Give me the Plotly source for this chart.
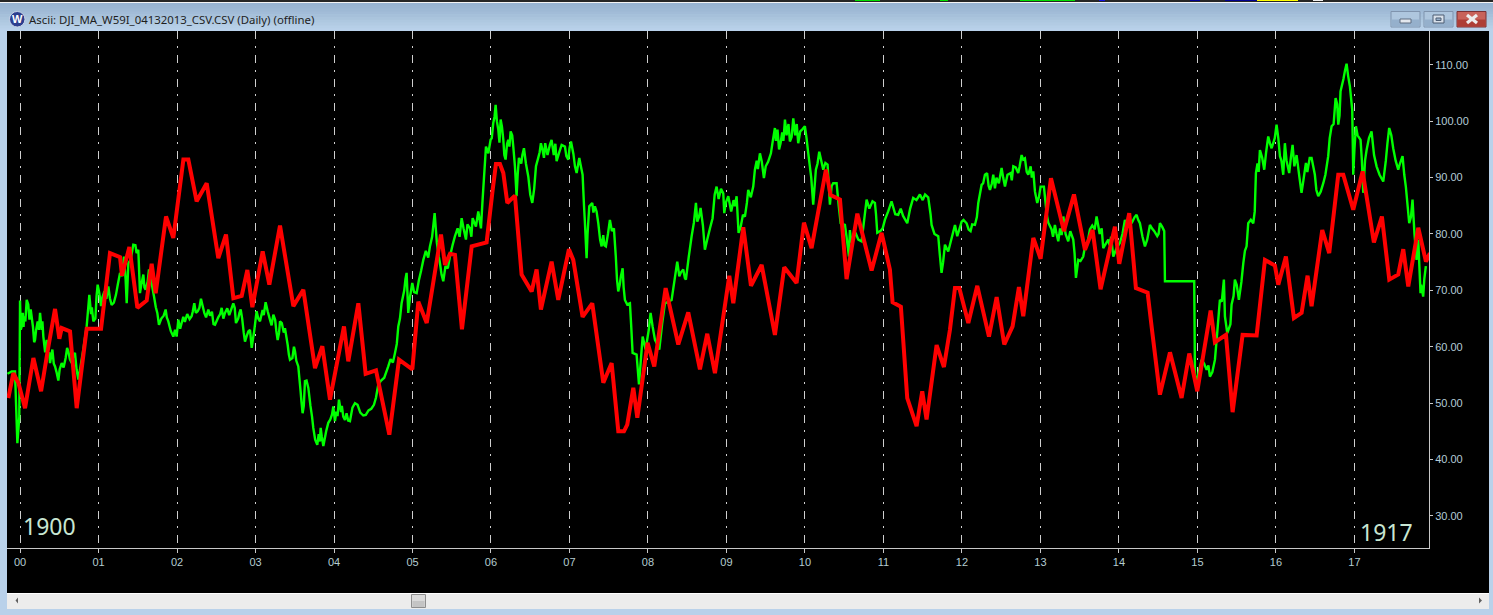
import plotly.graph_objects as go

red_years = [-0.149,-0.085,-0.021,0.064,0.170,0.268,0.361,0.446,0.501,0.531,0.637,0.722,0.849,1.032,1.146,1.274,1.299,1.393,1.495,1.614,1.677,1.728,1.860,1.953,2.081,2.144,2.250,2.378,2.526,2.624,2.718,2.824,2.896,2.960,3.091,3.176,3.312,3.482,3.609,3.758,3.851,3.949,4.127,4.182,4.310,4.403,4.535,4.705,4.828,4.998,5.074,5.181,5.363,5.414,5.478,5.541,5.630,5.754,
5.944,6.021,6.063,6.114,6.157,6.208,6.305,6.390,6.518,6.581,6.636,6.772,6.857,6.993,7.048,7.167,7.290,7.431,7.537,7.622,7.694,7.736,7.813,7.864,7.995,8.080,8.225,8.386,8.513,8.662,8.755,8.853,9.036,9.087,9.214,9.312,9.448,9.617,9.736,9.893,9.987,10.084,10.267,10.326,10.446,10.530,10.667,10.849,10.976,11.082,11.116,11.222,11.303,11.422,11.494,11.549,11.677,11.770,
11.847,11.911,11.966,12.081,12.195,12.344,12.442,12.539,12.645,12.726,12.781,12.909,13.002,13.134,13.299,13.427,13.567,13.664,13.766,13.949,14.004,14.131,14.216,14.365,14.429,14.522,14.650,14.798,14.896,14.998,15.168,15.223,15.363,15.448,15.575,15.754,15.860,15.987,16.030,16.127,16.229,16.327,16.403,16.454,16.590,16.679,16.794,16.858,16.985,17.104,17.248,17.350,17.444,17.558,17.622,17.686,17.813,17.911,17.962]
red_values = [50.9,55.3,53.6,49.1,58.0,52.1,60.0,66.7,61.4,63.3,62.7,49.1,63.2,63.2,76.6,75.9,72.6,77.7,66.9,68.2,74.7,69.5,83.1,79.3,93.2,93.2,85.8,89.0,75.7,79.9,68.6,69.0,73.6,67.0,76.9,71.0,81.5,67.2,70.1,56.2,60.1,50.6,63.6,57.4,67.7,55.2,55.8,44.4,57.7,56.0,68.0,64.2,79.9,74.5,76.5,76.3,63.1,77.8,
78.5,87.8,92.4,92.4,90.8,85.5,86.8,72.8,69.8,73.7,66.6,75.1,68.3,77.3,75.4,65.3,67.7,53.6,57.1,45.0,45.0,46.2,52.7,47.4,60.7,56.5,70.4,60.4,66.1,56.0,62.3,55.3,72.6,67.7,81.2,70.8,74.5,62.1,74.1,71.3,82.0,77.5,91.4,86.9,86.1,72.0,83.6,73.5,80.2,73.7,67.9,67.1,50.9,45.9,52.1,47.1,60.3,56.4,
63.0,70.4,70.4,64.2,70.8,61.8,68.8,60.4,63.6,70.6,65.4,79.3,75.6,89.9,80.5,87.0,77.2,80.7,70.2,81.3,74.7,83.7,70.4,69.6,62.1,51.5,59.0,50.9,58.8,52.1,66.4,60.8,62.1,48.4,62.1,62.0,75.4,74.4,71.0,76.0,65.1,66.0,72.6,67.2,80.7,76.6,90.5,90.5,84.3,91.1,78.5,83.1,71.9,72.8,77.3,70.7,81.1,75.1,76.6]

green_years = [-0.160,-0.106,-0.064,-0.051,-0.034,-0.009,0.0,0.021,0.051,0.085,0.136,0.191,0.255,0.297,0.339,0.382,0.412,0.446,0.488,0.531,0.581,0.615,0.658,0.700,0.743,0.806,0.849,0.883,0.934,0.989,1.032,1.125,1.167,1.222,1.274,1.324,1.359,1.380,1.443,1.507,1.528,1.571,1.600,1.643,1.707,1.749,1.770,1.855,1.889,1.953,1.995,2.017,2.059,2.186,2.220,2.263,2.305,2.348,2.399,2.484,2.569,2.611,2.717,2.751,2.811,2.866,2.908,2.951,3.014,3.057,3.129,3.184,3.227,3.282,3.312,3.375,3.439,3.503,3.545,3.600,3.630,3.673,3.736,3.787,3.830,3.864,3.927,3.991,4.012,4.063,4.118,4.203,4.267,4.373,4.509,4.564,4.691,4.777,4.819,4.861,4.925,4.946,4.997,5.053,5.138,5.222,5.282,5.350,5.392,5.477,5.541,5.626,5.681,
5.732,5.766,5.808,5.838,5.872,5.893,5.936,5.966,5.995,6.029,6.059,6.093,6.123,6.157,6.186,6.220,6.250,6.284,6.326,6.356,6.420,6.475,6.526,6.573,6.636,6.675,6.772,6.836,6.942,6.985,7.019,7.091,7.125,7.167,7.197,7.218,7.252,7.324,7.367,7.409,7.464,7.515,7.566,7.621,7.677,7.706,7.770,7.804,7.855,7.885,7.932,7.970,8.033,8.089,8.144,8.216,8.301,8.373,8.399,8.449,8.483,8.556,8.611,8.628,8.670,8.725,8.823,8.874,8.959,8.972,9.023,9.108,9.129,9.154,9.235,9.277,9.341,9.362,9.426,9.477,9.566,9.617,9.689,9.745,9.808,9.851,9.914,9.999,10.042,10.105,10.139,10.182,10.233,10.288,10.318,10.360,10.403,10.454,10.509,10.560,10.572,10.615,10.721,10.785,10.891,10.921,11.018,11.103,11.188,11.303,11.379,11.464,11.570,11.613,11.698,11.740,11.783,11.825,
11.847,11.911,11.940,11.996,12.059,12.110,12.165,12.208,12.250,12.293,12.357,12.399,12.420,12.505,12.548,12.654,12.717,12.760,12.802,12.845,12.909,12.959,13.002,13.044,13.078,13.142,13.184,13.227,13.291,13.354,13.418,13.452,13.482,13.545,13.630,13.715,13.800,13.864,13.928,14.012,14.076,14.161,14.225,14.267,14.331,14.395,14.488,14.522,14.577,14.586,14.959,14.968,14.989,15.053,15.117,15.159,15.223,15.286,15.337,15.350,15.380,15.435,15.477,15.528,15.584,15.626,15.647,15.711,15.745,15.796,15.851,15.902,15.945,16.008,16.051,16.093,16.114,16.169,16.212,16.263,16.326,16.382,16.454,16.496,16.539,16.603,16.666,16.709,16.760,16.794,16.823,16.900,16.942,16.972,16.985,17.019,17.078,17.112,17.155,17.218,17.282,17.367,17.443,17.494,17.558,17.613,17.655,17.698,17.740,17.791,17.813,17.842,17.876,17.910]
green_values = [55.2,55.6,55.6,50.0,42.9,47.6,68.2,63.6,65.4,68.3,66.6,61.2,66.0,61.8,61.2,57.1,59.5,56.5,54.0,57.1,58.0,59.2,57.1,58.9,54.2,59.5,63.6,69.2,64.5,71.0,67.2,70.7,67.4,69.2,73.1,76.0,67.7,74.8,78.1,77.2,69.5,72.8,70.1,73.7,68.9,66.0,63.9,66.6,64.5,61.8,61.8,64.8,64.2,65.4,67.7,66.3,68.5,66.0,66.6,63.9,66.9,66.0,67.7,64.2,66.6,60.9,62.7,59.8,66.3,64.5,67.9,64.8,65.7,61.2,64.5,63.3,57.7,59.2,56.5,48.2,53.9,52.7,45.6,42.6,45.6,42.4,46.5,49.4,46.8,50.6,47.6,46.8,50.0,47.8,49.7,53.3,56.5,58.9,63.6,67.7,73.1,66.0,71.3,69.5,75.4,77.8,83.7,74.8,71.6,76.0,79.6,82.8,79.0,
81.0,82.8,81.3,84.0,81.0,86.1,95.5,94.3,96.7,99.7,102.9,98.5,100.3,96.7,93.2,96.7,98.2,95.5,86.7,93.5,95.2,90.2,85.5,92.0,96.1,93.5,96.7,92.9,95.5,93.2,96.4,90.8,93.5,90.5,81.9,75.7,84.9,84.9,81.9,77.8,77.8,82.5,81.0,69.8,73.9,68.3,67.7,58.9,58.6,53.3,61.8,59.5,66.0,61.2,59.5,67.7,68.3,75.1,72.5,73.7,71.9,79.6,85.5,82.2,84.6,77.2,82.8,88.4,87.2,83.7,86.7,84.9,86.7,80.2,83.1,87.8,88.4,91.4,94.3,89.9,94.3,98.8,96.1,100.3,96.4,100.5,96.1,99.1,94.3,85.2,91.4,94.6,91.4,92.3,85.2,89.0,89.0,81.9,81.6,76.0,80.7,79.6,78.7,86.1,85.5,80.2,82.5,85.8,83.4,81.9,86.4,87.0,86.5,81.6,79.6,73.1,78.1,76.9,
78.1,81.6,79.6,82.2,81.9,80.5,81.6,85.5,88.7,90.5,87.8,90.5,88.1,91.7,88.4,92.0,90.8,94.0,93.4,90.5,91.1,85.5,88.4,88.4,83.7,80.8,81.6,78.7,83.1,78.7,79.0,72.2,75.4,76.0,80.8,83.1,77.5,79.0,76.0,78.4,82.5,81.9,83.4,81.9,77.8,81.6,79.6,81.9,80.5,71.6,71.6,55.3,53.6,57.7,55.9,54.7,57.7,68.3,71.9,65.4,62.4,67.5,71.9,68.3,74.8,77.8,81.9,81.9,90.8,94.9,91.4,97.3,95.2,99.4,93.8,90.5,96.1,90.8,95.8,94.0,87.3,92.6,93.5,90.5,86.7,89.0,93.8,99.1,104.1,99.4,105.3,110.2,106.2,102.0,90.5,99.1,96.7,87.3,94.9,98.2,92.0,89.3,98.8,95.2,91.4,93.8,88.4,81.9,86.1,75.4,79.0,69.5,68.9,74.3]

# finer swings of the green series, estimated between the larger turns above
green_detail_years = [0.010,0.035,0.045,0.068,0.105,0.120,0.165,0.180,0.205,0.225,0.240,0.275,0.285,0.320,0.355,0.372,0.430,0.465,0.505,0.555,0.600,0.635,0.680,0.720,
0.905,0.915,0.960,0.975,1.010,1.050,1.075,1.100,1.145,1.195,1.245,1.300,1.345,1.410,1.470,1.485,1.545,1.585,1.625,1.680,1.730,1.800,1.830,1.870,1.920,1.975,
2.040,2.080,2.100,2.130,2.160,2.200,2.240,2.285,2.325,2.370,2.420,2.445,2.465,2.525,2.550,2.590,2.640,2.665,2.690,2.735,2.780,2.795,2.830,2.850,2.885,2.930,
2.985,3.035,3.090,3.105,3.155,3.205,3.250,3.265,3.300,3.335,3.360,3.410,3.425,3.470,3.490,3.520,3.575,3.585,3.615,3.650,3.700,3.720,3.760,3.805,3.820,3.845,3.900,3.950,3.975,
4.030,4.045,4.090,4.100,4.140,4.160,4.180,4.235,4.300,4.335,4.405,4.440,4.475,4.535,4.600,4.640,4.720,4.750,4.800,4.840,
4.895,4.910,4.970,5.020,5.080,5.110,5.170,5.200,5.250,5.310,5.335,5.370,5.420,5.450,5.510,5.575,5.600,5.650,5.700,5.750,
6.010,6.045,6.075,6.108,6.140,6.170,6.205,6.235,6.270,6.305,6.340,6.385,6.400,6.445,6.500,6.550,6.600,6.620,6.655,6.690,6.720,6.750,6.800,6.820,6.870,6.900,6.960,7.000,7.050,7.070,
7.145,7.185,7.230,7.290,7.305,7.345,7.390,7.430,7.445,7.490,7.540,7.590,7.605,7.640,7.655,7.690,7.735,7.785,
8.010,8.060,8.115,8.180,8.260,8.340,8.420,8.470,8.520,8.585,8.650,8.700,8.755,8.790,8.850,8.900,8.930,8.990,9.060,9.090,
9.180,9.210,9.260,9.310,9.385,9.400,9.450,9.500,9.530,9.590,9.630,9.650,9.670,9.710,9.725,9.765,9.790,9.830,9.875,9.895,9.940,9.970,10.020,
10.080,10.160,10.260,10.340,10.430,10.530,10.590,10.650,10.680,10.750,10.820,10.860,10.905,10.960,10.990,11.060,11.150,11.220,11.250,11.340,11.420,11.500,11.530,11.600,11.650,11.720,11.760,
12.020,12.085,12.130,12.190,12.270,12.320,12.340,12.380,12.440,12.470,12.525,12.580,12.620,12.635,12.685,12.735,12.780,12.825,12.875,12.890,
12.930,12.980,13.100,13.160,13.205,13.250,13.270,13.320,13.380,13.435,13.510,13.570,13.600,13.660,13.690,13.755,13.780,13.830,13.880,13.900,13.970,14.045,
14.100,14.130,14.200,14.245,14.300,14.360,14.420,14.450,14.505,14.550,
15.020,15.085,15.140,15.190,15.255,15.310,15.420,15.460,15.500,15.560,15.605,15.680,15.730,15.765,15.780,15.825,15.875,15.925,15.985,16.030,
16.070,16.135,16.190,16.235,16.300,16.350,16.400,16.430,16.475,16.515,16.570,16.630,16.685,16.735,16.780,16.810,16.860,16.880,16.920,
17.000,17.040,17.095,17.135,17.185,17.250,17.320,17.400,17.420,17.470,17.525,17.580,17.635,17.720,17.765,17.850,17.890]
green_detail_values = [63.0,66.0,63.5,64.5,67.5,64.8,63.5,60.8,63.0,64.5,63.0,63.0,64.5,59.0,58.5,59.0,57.0,55.5,56.0,56.3,59.8,57.8,58.5,56.0,
65.8,67.0,65.0,69.0,69.5,68.8,69.8,68.5,68.6,67.8,71.0,72.5,72.0,75.5,78.0,76.6,71.0,70.5,71.5,71.0,67.0,65.0,65.5,65.2,62.8,63.0,
63.2,65.3,64.4,65.8,64.9,66.2,66.0,66.9,67.3,65.2,65.5,66.2,64.0,65.2,65.8,65.0,66.8,65.6,66.6,66.9,65.0,66.0,65.0,62.5,61.8,63.0,
63.0,65.0,66.5,65.6,66.3,63.8,64.8,62.8,62.5,64.2,62.5,60.3,58.6,58.0,60.0,57.5,52.0,50.3,49.5,54.0,49.5,47.6,43.5,44.5,43.2,44.0,45.0,47.0,48.0,
48.5,47.7,48.4,49.5,47.0,48.2,46.9,49.2,49.7,48.3,47.9,48.7,49.0,51.0,54.0,54.5,57.8,57.2,60.5,65.0,
70.0,72.0,69.0,69.7,71.7,73.5,77.0,75.8,79.5,78.5,76.0,72.8,74.3,73.9,78.0,81.0,79.5,81.0,81.7,79.5,
97.0,100.8,100.0,96.2,99.0,94.0,96.0,95.5,97.5,92.0,90.5,92.5,94.0,92.5,87.0,88.0,93.4,94.5,95.0,96.1,94.0,95.8,94.0,96.0,94.5,95.8,93.8,95.2,94.2,92.0,
92.0,85.0,80.0,85.5,83.8,84.0,79.0,79.8,78.0,80.0,80.5,76.0,72.0,71.0,72.5,70.5,67.5,64.0,
63.0,63.5,60.5,64.0,68.0,72.0,73.2,72.2,76.0,82.0,83.0,81.5,79.0,81.0,87.0,86.2,88.0,85.5,84.0,86.0,
81.2,83.4,85.5,86.5,93.0,91.5,92.8,92.0,92.8,96.5,96.5,98.5,95.0,98.0,96.5,97.5,99.5,97.2,97.5,99.5,98.2,98.6,97.0,
90.0,92.5,92.6,88.5,85.0,79.5,78.5,80.0,79.0,82.0,84.5,85.8,83.5,80.5,81.0,84.0,83.5,84.5,83.2,84.5,86.0,86.0,87.0,83.5,80.0,76.0,75.0,
82.5,80.8,81.7,83.0,89.0,90.8,88.5,88.9,90.0,89.0,90.0,90.5,90.8,89.5,91.8,92.0,93.2,91.0,92.0,90.0,
87.5,86.5,82.0,79.5,80.0,81.0,79.8,80.0,80.5,76.5,75.2,78.0,78.5,81.5,80.8,80.0,81.0,78.2,78.0,79.5,77.5,80.0,
81.0,82.7,83.0,82.5,79.5,79.0,81.0,80.5,80.0,81.3,
55.7,57.0,56.7,55.5,63.0,68.0,64.0,69.0,71.0,71.5,77.0,82.5,84.0,92.5,91.0,93.5,94.5,96.0,97.0,97.0,
93.0,93.0,93.5,92.0,90.0,89.5,91.0,93.5,92.0,87.8,87.5,90.5,97.0,99.5,103.0,101.0,107.5,109.0,108.0,
95.0,97.5,93.0,93.0,97.0,94.0,90.5,93.0,96.0,97.5,93.0,92.5,90.5,83.0,80.0,71.0,72.0]

x_ticks = list(range(18))
x_labels = [f"{y:02d}" for y in x_ticks]
y_ticks = [30, 40, 50, 60, 70, 80, 90, 100, 110]
y_labels = [f"{v:.2f}" for v in y_ticks]
title_text = "Ascii: DJI_MA_W59I_04132013_CSV.CSV (Daily) (offline)"

green_pairs = sorted(zip(green_years + green_detail_years, green_values + green_detail_values))
green_x = [p[0] for p in green_pairs]
green_y = [p[1] for p in green_pairs]

W, H = 1493, 615
def fx(p): return p / W
def fy(p): return 1 - p / H

FRAME = "#B9D1EA"
shapes = []
def rect(x0, y0, x1, y1, fill, line=None, lw=1):
    shapes.append(dict(type="rect", xref="paper", yref="paper", x0=fx(x0), x1=fx(x1), y0=fy(y0), y1=fy(y1),
                       fillcolor=fill, line=dict(color=line or fill, width=lw if line else 0), layer="below"))

# window frame
rect(0, 0, W, H, FRAME)
title_bands = ["#98B4D2", "#9BB6D3", "#9EB9D5", "#A2BCD8", "#A6C0DA", "#AAC4DD", "#AEC8E0", "#B2CBE3", "#B6CFE7", "#B9D1EA"]
band_h = 28 / len(title_bands)
for i, c in enumerate(title_bands):
    rect(0, 3 + i * band_h, W, 3 + (i + 1) * band_h + 0.5, c)
rect(0, 0, W, 2, "#262626")
rect(0, 2, W, 3, "#F4F4F4")
for a, b, c in [(855, 880, "#00E000"), (940, 948, "#00E000"), (1020, 1075, "#00E000"), (1099, 1105, "#1010E0"),
                (1190, 1200, "#000090"), (1225, 1270, "#000090"), (1257, 1298, "#FFFF00"), (1313, 1323, "#F0F0F0")]:
    rect(a, 0, b, 1, c)
# black client area
rect(7, 31, 1489, 593, "#000000")
# scrollbar
rect(7, 593, 1489, 609, "#ECECEC")
rect(7, 593, 1489, 594, "#FFFFFF")
rect(411.5, 594.5, 425.5, 607.5, "#DADADA", "#8E8E8E", 1)
rect(412.5, 601, 424.5, 607, "#C4C4C4")
# buttons
rect(1391, 11.5, 1420, 27, "#AEC6DE", "#7F93AD", 1)
rect(1391.5, 19.5, 1419.5, 26.5, "#95B0CC")
rect(1400, 19, 1411, 23, "#E4E8EE", "#5E6C80", 1)
rect(1424, 11.5, 1453, 27, "#AEC6DE", "#7F93AD", 1)
rect(1424.5, 19.5, 1452.5, 26.5, "#95B0CC")
rect(1433, 15, 1444, 23, "#D8E0EA", "#4D5D73", 1)
rect(1436, 18, 1441, 20.5, "#98B0CA", "#4D5D73", 1)
rect(1457, 11.5, 1486, 27, "#C8625A", "#7A3034", 1)
rect(1457.5, 19.5, 1485.5, 26.5, "#AE3E36")
for xa, xb in [(1467, 1477), (1477, 1467)]:
    shapes.append(dict(type="line", xref="paper", yref="paper", x0=fx(xa), x1=fx(xb), y0=fy(15), y1=fy(23),
                       line=dict(color="#EDEDED", width=3.2), layer="above"))
# scroll arrows
for path in [(15.5, 600.5, 18, 597.5, 18, 603.5), (1482, 600.5, 1479, 597.5, 1479, 603.5)]:
    xa, ya, xb, yb, xc, yc = path
    shapes.append(dict(type="path", xref="paper", yref="paper",
                       path=f"M{fx(xa)},{fy(ya)} L{fx(xb)},{fy(yb)} L{fx(xc)},{fy(yc)} Z",
                       fillcolor="#606060", line=dict(width=0), layer="above"))
# logo
shapes.append(dict(type="circle", xref="paper", yref="paper", x0=fx(9.5), x1=fx(25), y0=fy(27), y1=fy(11.5),
                   fillcolor="#2D3F8F", line=dict(color="#C8D4E8", width=1), layer="above"))

fig = go.Figure()
fig.add_trace(go.Scatter(x=green_x, y=green_y, mode="lines", name="DJI",
                         line=dict(color="#00FF00", width=2.4, shape="linear", simplify=False),
                         hoverinfo="skip", showlegend=False))
fig.add_trace(go.Scatter(x=red_years, y=red_values, mode="lines", name="MA",
                         line=dict(color="#FF0000", width=4, shape="linear", simplify=False),
                         hoverinfo="skip", showlegend=False))

annotations = [
    dict(xref="paper", yref="paper", x=fx(27), y=fy(19.5), xanchor="left", yanchor="middle", showarrow=False,
         text=title_text, font=dict(family="Noto Sans", size=11.4, color="#1E1E1E")),
    dict(xref="paper", yref="paper", x=fx(17.3), y=fy(19), xanchor="center", yanchor="middle", showarrow=False,
         text="<b>W</b>", font=dict(family="Liberation Sans", size=11, color="#FFFFFF")),
    dict(xref="paper", yref="paper", x=fx(21), y=fy(525.5), xanchor="left", yanchor="middle", showarrow=False,
         text="1900", font=dict(family="Noto Sans", size=23, color="#C8E6D2")),
    dict(xref="paper", yref="paper", x=fx(1358), y=fy(531.5), xanchor="left", yanchor="middle", showarrow=False,
         text="1917", font=dict(family="Noto Sans", size=23, color="#C8E6D2")),
]

fig.update_layout(
    width=W, height=H, margin=dict(l=0, r=0, t=0, b=0, pad=0), autosize=False,
    paper_bgcolor=FRAME, plot_bgcolor="#000000", showlegend=False, hovermode=False,
    shapes=shapes, annotations=annotations,
    xaxis=dict(domain=[fx(7), fx(1429)], range=[-0.166, 17.95], tickmode="array", tickvals=x_ticks, ticktext=x_labels,
               showgrid=True, gridcolor="#CFCFCF", gridwidth=1, griddash="8px,7px,2px,7px", zeroline=False,
               showline=True, linecolor="#C8C8C8", linewidth=1, ticks="outside", ticklen=4, tickcolor="#C8C8C8",
               tickangle=0, tickfont=dict(family="Liberation Sans", size=11, color="#B4CCD0"), fixedrange=True),
    yaxis=dict(domain=[fy(548), fy(31)], range=[24.3, 116.0], side="right", tickmode="array", tickvals=y_ticks,
               ticktext=y_labels, showgrid=False, zeroline=False, showline=True, linecolor="#C8C8C8", linewidth=1,
               ticks="outside", ticklen=3, tickcolor="#C8C8C8",
               tickfont=dict(family="Liberation Sans", size=11, color="#B4CCD8"), fixedrange=True),
)
fig.write_html("out.html", config=dict(displayModeBar=False),
               post_script="document.body.style.margin='0';document.body.style.overflow='hidden';")
